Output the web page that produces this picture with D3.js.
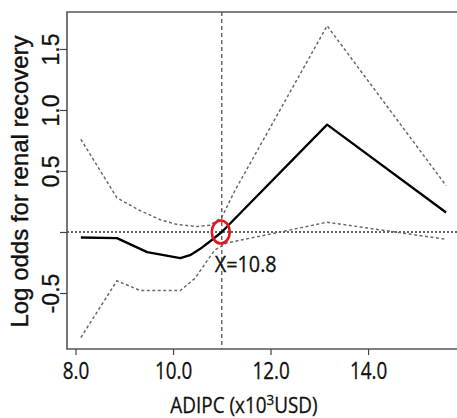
<!DOCTYPE html>
<html><head><meta charset="utf-8">
<script src="https://cdn.jsdelivr.net/npm/d3@7"></script>
<style>html,body{margin:0;padding:0;background:#fff;}svg{display:block;}</style>
</head><body>
<svg id="chart" width="457" height="418"></svg>
<script>
// ---- data ----
const solidX = [8.11, 8.85, 9.47, 10.15, 10.35, 10.55, 10.75, 11.0, 13.16, 15.6];
const solidY = [-0.045, -0.05, -0.165, -0.215, -0.19, -0.14, -0.08, 0.0, 0.88, 0.16];
const upperX = [8.11, 8.85, 9.3, 9.74, 10.1, 10.5, 10.75, 11.0, 11.27, 13.16, 15.6];
const upperY = [0.76, 0.28, 0.18, 0.10, 0.06, 0.045, 0.055, 0.12, 0.34, 1.69, 0.38];
const lowerX = [8.11, 8.85, 9.33, 10.15, 10.45, 10.85, 11.1, 12.2, 13.16, 15.6];
const lowerY = [-0.865, -0.40, -0.48, -0.48, -0.38, -0.15, -0.09, 0.0, 0.08, -0.06];
const xTicks = [8, 10, 12, 14];
const yTicks = [-0.5, 0, 0.5, 1.0, 1.5];
const yTickLabels = ["-0.5", "", "0.5", "1.0", "1.5"];
const refX = 11.0;
const refY = 0;
const refLabel = "X=10.8";
const xTitle = "ADIPC (x10";
const xTitleSup = "3";
const xTitleEnd = "USD)";
const yTitle = "Log odds for renal recovery";

// ---- layout ----
const pL = 67, pT = 12, pB = 349, pR = 470;
const svg = d3.select("#chart");
const x = d3.scaleLinear().domain([7.826, 16.09]).range([pL, pR]);
const y = d3.scaleLinear().domain([-0.959, 1.803]).range([pB, pT]);

const toPts = (xs, ys) => xs.map((v, i) => [v, ys[i]]);
const line = d3.line().x(d => x(d[0])).y(d => y(d[1]));

// reference lines
svg.append("line")
  .attr("x1", pL).attr("x2", pR)
  .attr("y1", y(refY)).attr("y2", y(refY))
  .attr("stroke", "#333").attr("stroke-width", 1.4).attr("stroke-dasharray", "2,2");
svg.append("line")
  .attr("x1", x(refX)).attr("x2", x(refX))
  .attr("y1", pT).attr("y2", pB)
  .attr("stroke", "#555").attr("stroke-width", 1.3).attr("stroke-dasharray", "4,3");

// confidence bands
[[upperX, upperY], [lowerX, lowerY]].forEach(([xs, ys]) => {
  svg.append("path").datum(toPts(xs, ys))
    .attr("d", line).attr("fill", "none")
    .attr("stroke", "#6a6a6a").attr("stroke-width", 1.5).attr("stroke-dasharray", "3,2.5");
});
// main curve
svg.append("path").datum(toPts(solidX, solidY))
  .attr("d", line).attr("fill", "none")
  .attr("stroke", "#000").attr("stroke-width", 2.3).attr("stroke-linejoin", "round");

// red marker
svg.append("ellipse")
  .attr("cx", x(refX) - 1).attr("cy", y(refY))
  .attr("rx", 9).attr("ry", 11.5)
  .attr("fill", "none").attr("stroke", "#e3141b").attr("stroke-width", 2.6);

const lx = x(refX) - 7;
svg.append("text")
  .attr("transform", `translate(${lx},272) scale(0.9,1)`)
  .attr("font-family", "Open Sans").attr("font-size", 22)
  .attr("fill", "#111").attr("stroke", "#111").attr("stroke-width", 0.3).text(refLabel);

// frame
svg.append("path")
  .attr("d", `M${pR},${pT}H${pL}V${pB}H${pR}`)
  .attr("fill", "none").attr("stroke", "#555").attr("stroke-width", 1.6);

// y axis
const gy = svg.append("g").attr("transform", `translate(${pL},0)`)
  .call(d3.axisLeft(y).tickValues(yTicks).tickSize(7).tickFormat((d, i) => yTickLabels[i]));
gy.select(".domain").remove();
gy.selectAll(".tick line").attr("stroke", "#444").attr("stroke-width", 1.2);
gy.selectAll(".tick text")
  .attr("x", 0).attr("y", -8).attr("dy", null)
  .attr("transform", "rotate(-90)")
  .attr("text-anchor", "middle")
  .attr("font-family", "Liberation Sans, Arial, sans-serif")
  .attr("font-size", 23).attr("fill", "#111").attr("stroke", "#111").attr("stroke-width", 0.3);

// x axis
const gx = svg.append("g").attr("transform", `translate(0,${pB})`)
  .call(d3.axisBottom(x).tickValues(xTicks).tickSize(6).tickFormat(d3.format(".1f")));
gx.select(".domain").remove();
gx.selectAll(".tick line").attr("stroke", "#444").attr("stroke-width", 1.2);
gx.selectAll(".tick text")
  .attr("y", 30).attr("dy", null)
  .attr("transform", "scale(0.82,1)")
  .attr("font-family", "Open Sans, sans-serif")
  .attr("font-size", 23).attr("fill", "#111").attr("stroke", "#111").attr("stroke-width", 0.3);

// titles
const xt = svg.append("text")
  .attr("transform", "translate(244,413) scale(0.9,1)")
  .attr("text-anchor", "middle")
  .attr("font-family", "Open Sans, sans-serif").attr("font-size", 21)
  .attr("fill", "#111").attr("stroke", "#111").attr("stroke-width", 0.3);
xt.append("tspan").text(xTitle);
xt.append("tspan").attr("dy", -8).attr("font-size", 15).text(xTitleSup);
xt.append("tspan").attr("dy", 8).text(xTitleEnd);

svg.append("text")
  .attr("transform", `translate(28,${(pT + pB) / 2 + 1}) rotate(-90)`)
  .attr("text-anchor", "middle")
  .attr("font-family", "Liberation Sans, Arial, sans-serif").attr("font-size", 24)
  .attr("fill", "#111").attr("stroke", "#111").attr("stroke-width", 0.4).text(yTitle);
</script>
</body></html>
